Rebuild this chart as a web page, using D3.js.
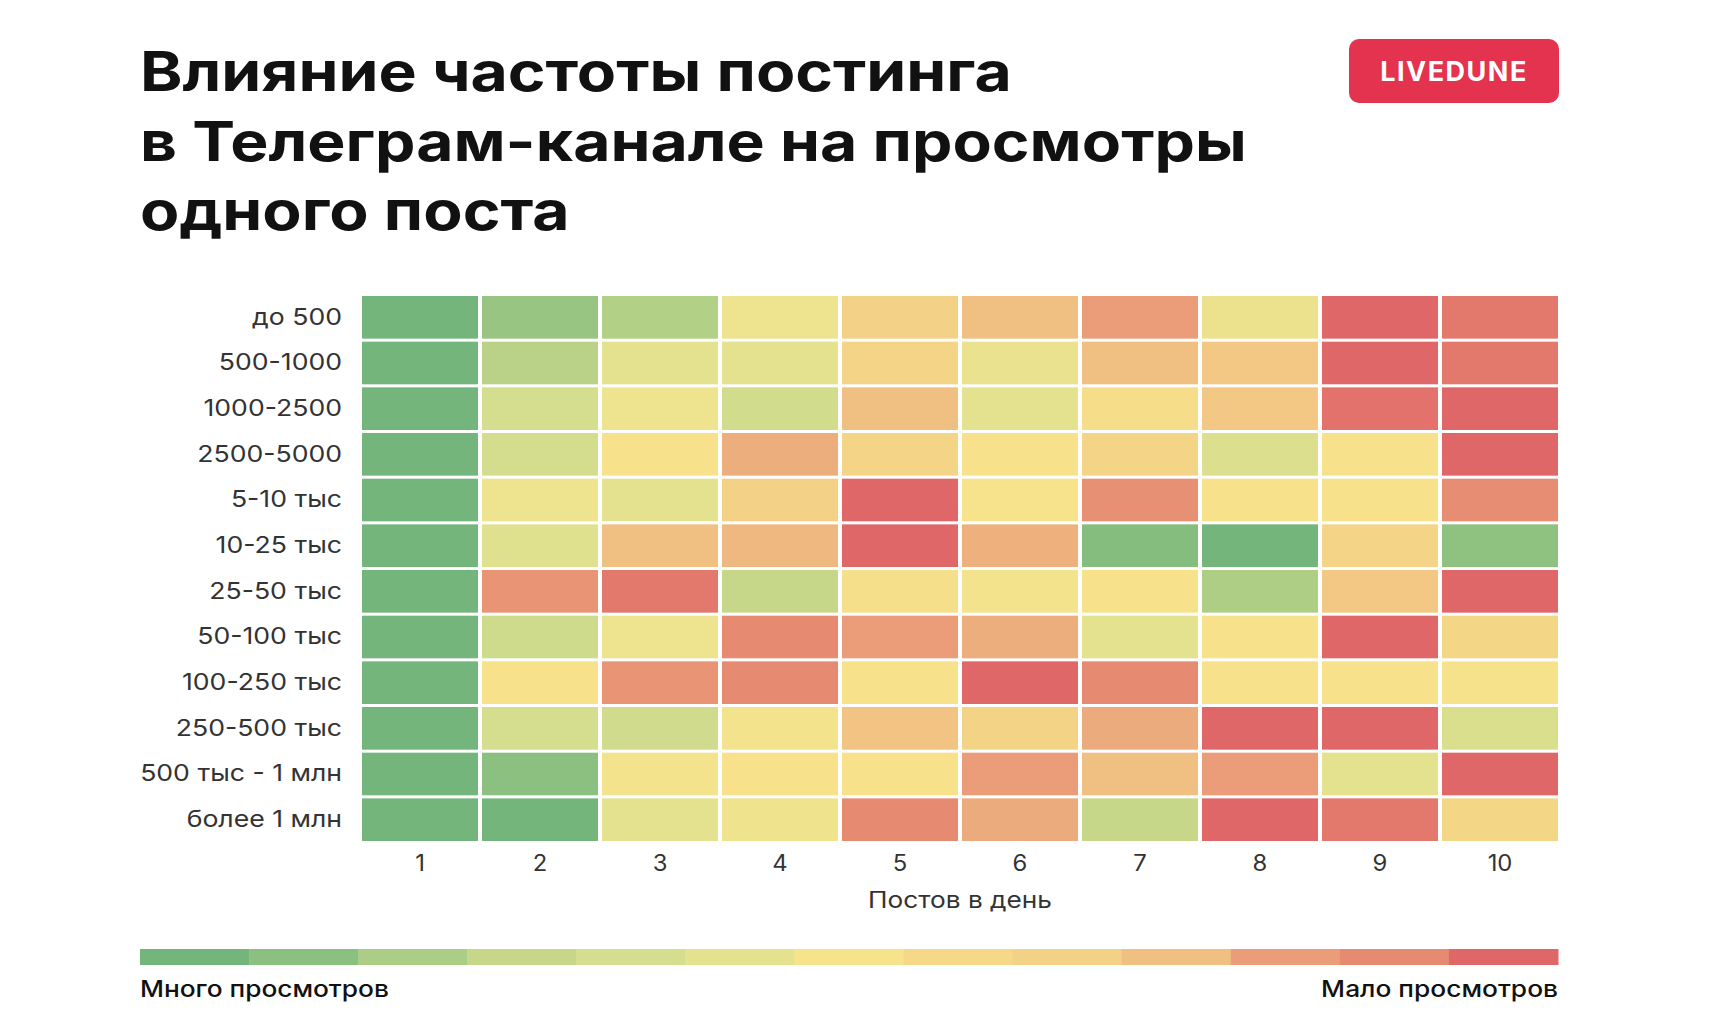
<!DOCTYPE html>
<html>
<head>
<meta charset="utf-8">
<script src="https://cdn.jsdelivr.net/npm/d3@7"></script>
<style>
  html, body { margin: 0; padding: 0; background: #ffffff; }
  svg { display: block; }
</style>
</head>
<body>
<svg id="chart" width="1730" height="1024"></svg>
<script>
// ---------- DATA ----------
const titleLines = ["Влияние частоты постинга", "в Телеграм-канале на просмотры", "одного поста"];
const brand = "LIVEDUNE";
const rowLabels = ["до 500", "500-1000", "1000-2500", "2500-5000", "5-10 тыс", "10-25 тыс",
                   "25-50 тыс", "50-100 тыс", "100-250 тыс", "250-500 тыс", "500 тыс - 1 млн", "более 1 млн"];
const postsPerDay = [1, 2, 3, 4, 5, 6, 7, 8, 9, 10];
const xTitle = "Постов в день";
const legendLeft = "Много просмотров";
const legendRight = "Мало просмотров";
// 13-step palette, from many views (0) to few views (12)
const palette = ["#73b57a", "#8cc080", "#abcd85", "#c7d78a", "#d5dd8e", "#e5e28f", "#f7e38c",
                 "#f5d988", "#f3d186", "#f0bf82", "#ea9d78", "#e68b72", "#e06768"];
// level (0 = many views ... 12 = few views), per row, columns 1..10 posts/day
const levels = [
  [0, 1.4, 2.3, 5.5, 8.0, 9.0, 10.0, 5.4, 12, 11.5],
  [0, 2.5, 5.0, 5.0, 7.6, 5.3, 9.0, 8.5, 12, 11.5],
  [0, 4.0, 5.5, 3.8, 9.0, 5.0, 6.6, 8.5, 11.7, 12],
  [0, 3.9, 6.2, 9.5, 7.6, 6.2, 7.6, 4.4, 6.2, 12],
  [0, 5.5, 5.0, 8.0, 12, 6.0, 10.7, 6.2, 6.2, 10.9],
  [0, 4.7, 9.0, 9.2, 12, 9.4, 0.7, 0, 7.5, 1.1],
  [0, 10.5, 11.5, 3.0, 6.4, 5.8, 6.2, 2.1, 8.5, 12],
  [0, 3.5, 5.5, 11.0, 10.0, 9.5, 5.0, 6.2, 12, 7.4],
  [0, 6.2, 10.5, 11.0, 6.2, 12, 11.0, 6.2, 6.2, 6.1],
  [0, 4.0, 3.7, 5.8, 8.7, 7.8, 9.6, 12, 12, 4.3],
  [0, 1.0, 5.8, 6.2, 6.2, 10.0, 9.0, 10.0, 5.0, 12],
  [0, 0, 5.0, 5.6, 11.0, 9.6, 3.0, 12, 11.5, 7.4]
];

// ---------- CHART ----------
const svg = d3.select("#chart");
svg.append("rect").attr("width", 1730).attr("height", 1024).attr("fill", "#ffffff");

const font = "Inter, 'Noto Sans', sans-serif";

// horizontal stretch helper: emulates the wide geometric face of the original
function stretch(sel, sx, ox, oy) {
  sel.attr("transform", `translate(${ox},${oy}) scale(${sx},1)`).attr("x", 0).attr("y", 0);
}

// Title
const titleG = svg.append("g");
const titleTexts = titleLines.map((t, i) => titleG.append("text")
  .attr("font-family", font)
  .attr("font-weight", 700)
  .attr("font-size", 55)
  .attr("fill", "#111111")
  .text(t));
const titleSx = 1107 / titleTexts[1].node().getComputedTextLength();
titleTexts.forEach((s, i) => stretch(s, titleSx, 140, 91 + i * 69.5));

// Brand badge
svg.append("rect")
  .attr("x", 1349).attr("y", 39).attr("width", 210).attr("height", 64)
  .attr("rx", 10).attr("fill", "#e3334f");
svg.append("text")
  .attr("x", 1454).attr("y", 81)
  .attr("text-anchor", "middle")
  .attr("font-family", font)
  .attr("font-weight", 700)
  .attr("font-size", 27)
  .attr("letter-spacing", 1.5)
  .attr("fill", "#ffffff")
  .text(brand);

// Scales
const x = d3.scaleBand().domain(postsPerDay).range([362, 1558]).paddingInner(4 / 120).paddingOuter(0);
const y = d3.scaleBand().domain(rowLabels).range([296, 841]).paddingInner(0.066).paddingOuter(0);
const color = d3.scaleLinear().domain(d3.range(palette.length)).range(palette).interpolate(d3.interpolateRgb);

// Cells
const cells = [];
levels.forEach((row, ri) => row.forEach((v, ci) => cells.push({ r: rowLabels[ri], c: postsPerDay[ci], v })));
svg.append("g").selectAll("rect").data(cells).join("rect")
  .attr("x", d => x(d.c))
  .attr("y", d => y(d.r))
  .attr("width", x.bandwidth())
  .attr("height", y.bandwidth())
  .attr("fill", d => color(d.v));

// Y axis (row labels)
const yAxis = svg.append("g").attr("transform", "translate(362,0)")
  .call(d3.axisLeft(y).tickSize(0).tickPadding(20));
yAxis.select(".domain").remove();
const yTexts = yAxis.selectAll("text")
  .attr("font-family", font).attr("font-size", 23).attr("fill", "#333333");
let longest = 0;
yTexts.each(function () { longest = Math.max(longest, this.getComputedTextLength()); });
const ySx = 202 / longest;
yTexts.attr("x", -20 / ySx).attr("transform", `scale(${ySx},1)`);

// X axis
const xAxis = svg.append("g").attr("transform", "translate(0,840)")
  .call(d3.axisBottom(x).tickSize(0).tickPadding(15));
xAxis.select(".domain").remove();
xAxis.selectAll("text")
  .attr("font-family", font).attr("font-size", 22.5).attr("fill", "#333333")
  .attr("transform", "scale(1.06,1)");

const xt = svg.append("text")
  .attr("text-anchor", "middle")
  .attr("font-family", font).attr("font-size", 22.5).attr("fill", "#333333")
  .text(xTitle);
stretch(xt, 184 / xt.node().getComputedTextLength(), (362 + 1558) / 2, 908);

// Legend
const lx = d3.scaleBand().domain(d3.range(palette.length)).range([140, 1558]);
svg.append("g").selectAll("rect").data(palette).join("rect")
  .attr("x", (d, i) => lx(i))
  .attr("y", 949)
  .attr("width", lx.bandwidth() + 0.5)
  .attr("height", 16)
  .attr("fill", d => d);

const ll = svg.append("text")
  .attr("font-family", font).attr("font-weight", 500).attr("font-size", 23).attr("fill", "#111111")
  .text(legendLeft);
stretch(ll, 249 / ll.node().getComputedTextLength(), 140, 997);
const lr = svg.append("text")
  .attr("text-anchor", "end")
  .attr("font-family", font).attr("font-weight", 500).attr("font-size", 23).attr("fill", "#111111")
  .text(legendRight);
stretch(lr, 237 / lr.node().getComputedTextLength(), 1558, 997);
</script>
</body>
</html>
